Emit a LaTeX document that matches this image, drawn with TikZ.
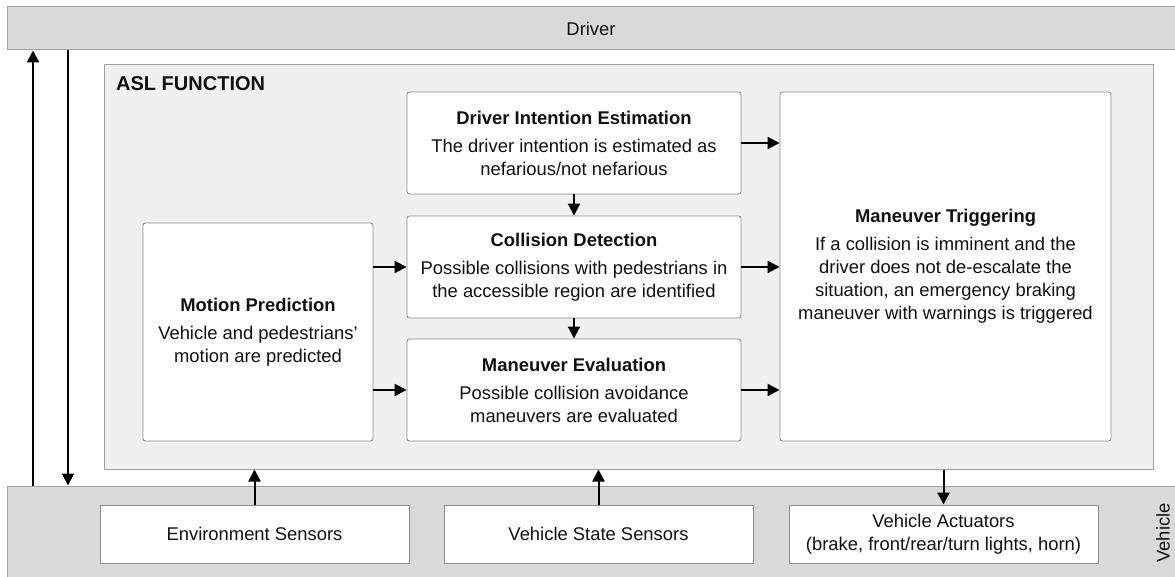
\documentclass[tikz,border=0pt]{standalone}
\usepackage{fontspec}
\setmainfont{Liberation Sans}
\usetikzlibrary{arrows.meta}
\definecolor{bargray}{HTML}{D9D9D9}
\definecolor{aslgray}{HTML}{F0F0F0}
\definecolor{edgegray}{HTML}{A0A0A0}
\definecolor{boxedge}{HTML}{8C8C8C}
\definecolor{txt}{HTML}{111111}
\tikzset{
  bar/.style={draw=edgegray, fill=bargray, line width=1pt, inner sep=0pt},
  aslbox/.style={draw=edgegray, fill=aslgray, line width=1pt, inner sep=0pt},
  fbox/.style={draw=boxedge, fill=white, line width=0.9pt, rounded corners=2.5pt, inner sep=0pt, align=center, text=txt, font=\fontsize{18.4}{23}\selectfont},
  sbox/.style={draw=boxedge, fill=white, line width=0.9pt, inner sep=0pt, align=center, text=txt, font=\fontsize{18.4}{23}\selectfont},
  arr/.style={line width=2pt, -{Triangle[length=12pt,width=12pt]}},
  lbl/.style={text=txt, font=\fontsize{18.4}{22}\selectfont, inner sep=0pt}
}
\newcommand{\ttl}[1]{\textbf{#1}\\[5pt]}
\begin{document}
\begin{tikzpicture}[x=1pt,y=-1pt]
\useasboundingbox (0,0) rectangle (1175,577);
% bars
\node[bar, minimum width=1169pt, minimum height=43pt] (driver) at (591.5,28.5) {};
\node[lbl] (drivertxt) at (591,29) {Driver};
\node[bar, minimum width=1169pt, minimum height=94pt] (vehicle) at (591.5,533) {};
\node[lbl, rotate=90] (vehtxt) at (1163,533) {Vehicle};
% ASL
\node[aslbox, minimum width=1049pt, minimum height=404pt] (asl) at (628.5,267) {};
\node[text=txt, font=\fontsize{20}{24}\selectfont\bfseries, inner sep=0pt, anchor=west] (asltxt) at (116,84) {ASL FUNCTION};
% function boxes
\node[fbox, minimum width=334pt, minimum height=102pt] (die) at (574,143)
  {\ttl{Driver Intention Estimation}The driver intention is estimated as\\nefarious/not nefarious};
\node[fbox, minimum width=334pt, minimum height=102pt] (cd) at (574,267)
  {\ttl{Collision Detection}Possible collisions with pedestrians in\\the accessible region are identified};
\node[fbox, minimum width=334pt, minimum height=102pt] (me) at (574,390)
  {\ttl{Maneuver Evaluation}Possible collision avoidance\\maneuvers are evaluated};
\node[fbox, minimum width=230pt, minimum height=218pt] (mp) at (258,332)
  {\ttl{Motion Prediction}Vehicle and pedestrians'\\motion are predicted};
\node[fbox, minimum width=331pt, minimum height=349pt] (mt) at (945.5,266.5)
  {\ttl{Maneuver Triggering}If a collision is imminent and the\\driver does not de-escalate the\\situation, an emergency braking\\maneuver with warnings is triggered};
% sensor/actuator boxes
\node[sbox, minimum width=309pt, minimum height=58pt] (es) at (254.5,534) {Environment Sensors};
\node[sbox, minimum width=309pt, minimum height=58pt] (vss) at (598.5,534) {Vehicle State Sensors};
\node[sbox, minimum width=309pt, minimum height=58pt] (va) at (943.5,534) {Vehicle Actuators\\(brake, front/rear/turn lights, horn)};
% driver/vehicle arrows
\coordinate (ux) at (33,0);
\coordinate (dx) at (68,0);
\draw[arr] (vehicle.north -| ux) -- (driver.south -| ux);
\draw[arr] (driver.south -| dx) -- (vehicle.north -| dx);
% internal arrows
\draw[arr] (die.south) -- (cd.north);
\draw[arr] (cd.south) -- (me.north);
\draw[arr] (die.east) -- (mt.west |- die.east);
\draw[arr] (cd.east) -- (mt.west |- cd.east);
\draw[arr] (me.east) -- (mt.west |- me.east);
\draw[arr] (mp.east |- cd.west) -- (cd.west);
\draw[arr] (mp.east |- me.west) -- (me.west);
% sensors / actuators
\draw[arr] (es.north) -- (es.north |- asl.south);
\draw[arr] (vss.north) -- (vss.north |- asl.south);
\draw[arr] (va.north |- asl.south) -- (va.north);
\end{tikzpicture}
\end{document}
